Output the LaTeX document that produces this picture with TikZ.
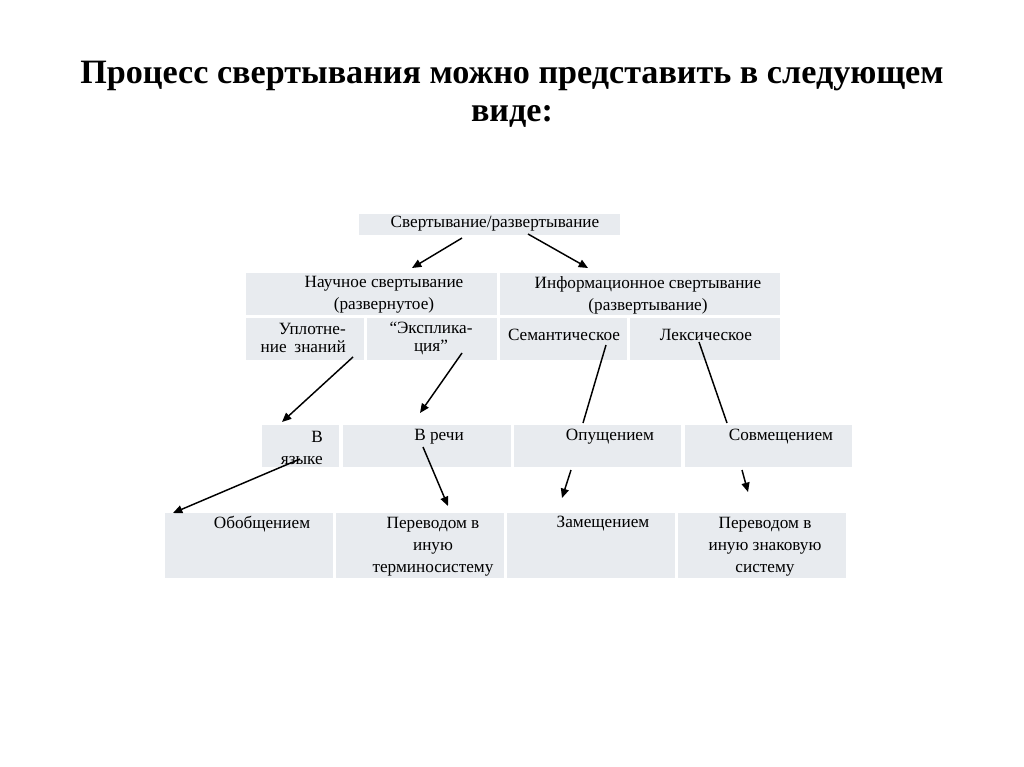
\documentclass[tikz,border=0pt]{standalone}
\usepackage{fontspec}
\setmainfont{Liberation Serif}
\usetikzlibrary{fit,arrows.meta}
\definecolor{cellfill}{RGB}{232,235,239}
\tikzset{
  cell/.style={fill=cellfill, draw=none, inner sep=0pt},
  txt/.style={inner sep=0pt, font=\fontsize{12.9}{16.5}\selectfont, align=center},
  tight/.style={font=\fontsize{12.9}{13.5}\selectfont},
  arr/.style={line width=1.1pt, -{Triangle[length=7pt,width=6pt]}},
  ln/.style={line width=1.1pt},
}
\begin{document}
\begin{tikzpicture}[x=0.75pt,y=-0.75pt]
\useasboundingbox (0,0) rectangle (1024,767);
% title
\node (title) [inner sep=0pt, align=center, font=\fontsize{25.6}{28.5}\selectfont\bfseries] at (512,94)
  {Процесс свертывания можно представить в следующем\\виде:};
% cells
\node (top) [cell, fit={(359,214) (620,235)}] {};
\node (r2a) [cell, fit={(246,273) (497,315)}] {};
\node (r2b) [cell, fit={(500,273) (780,315)}] {};
\node (r3a) [cell, fit={(246,318) (364,360)}] {};
\node (r3b) [cell, fit={(367,318) (497,360)}] {};
\node (r3c) [cell, fit={(500,318) (627,360)}] {};
\node (r3d) [cell, fit={(630,318) (780,360)}] {};
\node (r4a) [cell, fit={(262,425) (339,467)}] {};
\node (r4b) [cell, fit={(343,425) (511,467)}] {};
\node (r4c) [cell, fit={(514,425) (681,467)}] {};
\node (r4d) [cell, fit={(685,425) (852,467)}] {};
\node (r5a) [cell, fit={(165,513) (333,578)}] {};
\node (r5b) [cell, fit={(336,513) (504,578)}] {};
\node (r5c) [cell, fit={(507,513) (675,578)}] {};
\node (r5d) [cell, fit={(678,513) (846,578)}] {};
% texts
\node (ttop) [txt] at (495,224) {Свертывание/развертывание};
\node (t2a) [txt] at (384,295) {Научное свертывание\\(развернутое)};
\node (t2b) [txt] at (648,295) {Информационное свертывание\\(развертывание)};
\node (t3a) [txt, tight, align=right, anchor=east] at (346,338) {Уплотне-\\ние\hspace{0.45em}знаний};
\node (t3b) [txt, tight] at (431,338) {“Эксплика-\\ция”};
\node (t3c) [txt] at (564,335) {Семантическое};
\node (t3d) [txt] at (706,335) {Лексическое};
\node (t4a) [txt, align=right, anchor=east] at (323,448) {В\\языке};
\node (t4b) [txt] at (439,437) {В речи};
\node (t4c) [txt] at (610,437) {Опущением};
\node (t4d) [txt] at (781,437) {Совмещением};
\node (t5a) [txt] at (262,524) {Обобщением};
\node (t5b) [txt] at (433,547) {Переводом в\\иную\\терминосистему};
\node (t5c) [txt] at (603,524) {Замещением};
\node (t5d) [txt] at (765,547) {Переводом в\\иную знаковую\\систему};
% arrow endpoints
\coordinate (a1s) at (462,238); \coordinate (a1e) at (412,268);
\coordinate (a2s) at (528,234); \coordinate (a2e) at (588,268);
\coordinate (a3s) at (353,357); \coordinate (a3e) at (282,422);
\coordinate (a4s) at (462,353); \coordinate (a4e) at (420,413);
\coordinate (a5s) at (606,345); \coordinate (a5e) at (583,423);
\coordinate (a6s) at (699,342); \coordinate (a6e) at (727,423);
\coordinate (a7s) at (300,459); \coordinate (a7e) at (173,513);
\coordinate (a8s) at (423,447); \coordinate (a8e) at (448,506);
\coordinate (a9s) at (571,470); \coordinate (a9e) at (562,498);
\coordinate (a10s) at (742,470); \coordinate (a10e) at (748,492);
% connectors
\draw[arr] (a1s) -- (a1e);
\draw[arr] (a2s) -- (a2e);
\draw[arr] (a3s) -- (a3e);
\draw[arr] (a4s) -- (a4e);
\draw[ln] (a5s) -- (a5e);
\draw[ln] (a6s) -- (a6e);
\draw[arr] (a7s) -- (a7e);
\draw[arr] (a8s) -- (a8e);
\draw[arr] (a9s) -- (a9e);
\draw[arr] (a10s) -- (a10e);
\end{tikzpicture}
\end{document}
